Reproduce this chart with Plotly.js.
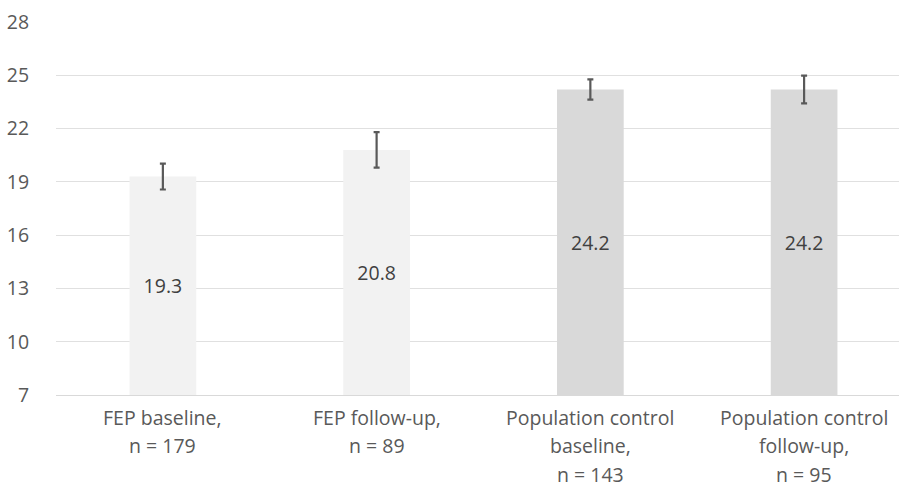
<!DOCTYPE html>
<html><head><meta charset="utf-8">
<script src="https://cdn.plot.ly/plotly-3.0.1.min.js"></script>
<style>body{margin:0;background:#fff}#c{width:899px;height:490px}</style>
</head><body><div id="c"></div>
<script>
const categories = ["FEP baseline, n = 179", "FEP follow-up, n = 89", "Population control baseline, n = 143", "Population control follow-up, n = 95"];
const categoryLines = [["FEP baseline,", "n = 179"], ["FEP follow-up,", "n = 89"], ["Population control", "baseline,", "n = 143"], ["Population control", "follow-up,", "n = 95"]];
const values = [19.3, 20.8, 24.2, 24.2];
const errors = [0.73, 1.0, 0.57, 0.78];
const barColors = ["#f2f2f2", "#f2f2f2", "#d9d9d9", "#d9d9d9"];
const yTicks = [7, 10, 13, 16, 19, 22, 25, 28];
const axisMin = 7;

const font = "Open Sans, sans-serif";
const fs = 19.5;
const annotations = [];
categories.forEach((c, i) => {
  categoryLines[i].forEach((line, j) => {
    annotations.push({
      x: c, xref: "x", y: 0, yref: "paper", yanchor: "middle",
      yshift: -22 - 28.8 * j, text: line, showarrow: false,
      font: {family: font, size: fs, color: "#595959"}
    });
  });
});

Plotly.newPlot("c", [{
  type: "bar",
  x: categories,
  base: axisMin,
  y: values.map(v => v - axisMin),
  marker: {color: barColors},
  width: 0.312,
  text: values.map(v => v.toFixed(1)),
  textposition: "inside",
  insidetextanchor: "middle",
  textfont: {family: font, size: fs, color: "#404040"},
  error_y: {type: "data", array: errors, visible: true, color: "#595959", thickness: 2.2, width: 3},
  hoverinfo: "none",
  cliponaxis: false
}], {
  width: 899, height: 490,
  margin: {l: 56, r: 0, t: 22, b: 95},
  paper_bgcolor: "#fff", plot_bgcolor: "#fff",
  showlegend: false,
  font: {family: font, color: "#595959", size: fs},
  annotations: annotations,
  xaxis: {
    range: [-0.5, 3.444],
    showline: true, linecolor: "#d9d9d9", linewidth: 1,
    showticklabels: false, showgrid: false
  },
  yaxis: {
    range: [7, 28], tickvals: yTicks, ticktext: yTicks.map(String),
    showgrid: true, gridcolor: "#e0e0e0", gridwidth: 1,
    zeroline: false, showline: false,
    ticks: "outside", ticklen: 22, tickcolor: "rgba(0,0,0,0)",
    tickfont: {family: font, size: fs, color: "#595959"}
  }
}, {displayModeBar: false, staticPlot: true});
</script></body></html>
